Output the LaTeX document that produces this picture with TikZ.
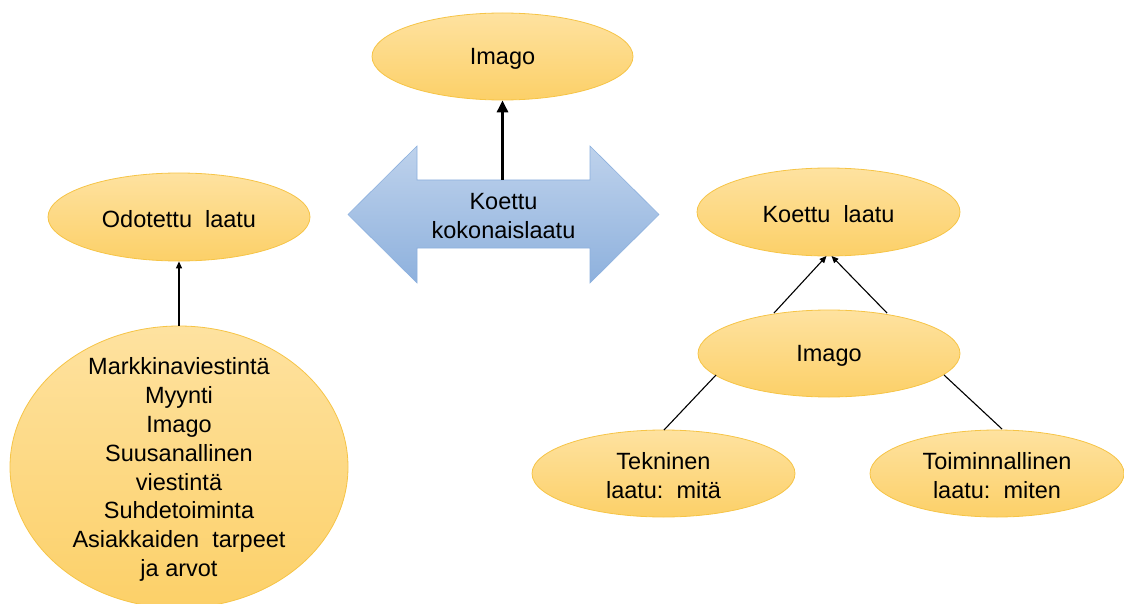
\documentclass[tikz,border=0pt]{standalone}
\usepackage{fontspec}
\setmainfont{Liberation Sans}
\usetikzlibrary{arrows.meta,shapes.geometric}
\definecolor{elltop}{RGB}{254,226,160}
\definecolor{ellbot}{RGB}{252,208,104}
\definecolor{elldraw}{RGB}{246,196,70}
\definecolor{arrtop}{RGB}{190,210,236}
\definecolor{arrbot}{RGB}{142,177,221}
\definecolor{arrdraw}{RGB}{140,176,222}
\tikzset{
  ell/.style={ellipse, draw=elldraw, line width=0.8pt, top color=elltop, bottom color=ellbot,
    inner sep=0pt},
  txt/.style={align=center, inner sep=0pt, font=\fontsize{23.5}{28.9}\selectfont},
  conn/.style={line width=1.1pt, -{Triangle[length=7pt,width=6pt]}},
  plain/.style={line width=1.1pt}
}
\begin{document}
\begin{tikzpicture}[x=1pt,y=-1pt]
\useasboundingbox (0,0) rectangle (1124,604);
% ellipses
\node[ell, minimum width=261pt, minimum height=87pt] (imagotop) at (502.5,56.5) {};
\node[txt] (imagotop-t) at ([yshift=-2.5pt]imagotop.center) {Imago};
\node[ell, minimum width=262pt, minimum height=88pt] (odot) at (179,217) {};
\node[txt] (odot-t) at ([yshift=-2.5pt]odot.center) {Odotettu\ \ laatu};
\node[ell, minimum width=338pt, minimum height=282pt] (big) at (179,467) {};
\node[txt] (big-t) at ([yshift=-2.5pt]big.center)
  {Markkinaviestintä\\Myynti\\Imago\\Suusanallinen\\viestintä\\Suhdetoiminta\\Asiakkaiden\ \ tarpeet\\ja arvot};
\node[ell, minimum width=263pt, minimum height=88pt] (koettu) at (828.5,212) {};
\node[txt] (koettu-t) at ([yshift=-2.5pt]koettu.center) {Koettu\ \ laatu};
\node[ell, minimum width=262pt, minimum height=87pt] (imagor) at (829,353.5) {};
\node[txt] (imagor-t) at ([yshift=-2.5pt]imagor.center) {Imago};
\node[ell, minimum width=263pt, minimum height=87pt] (tek) at (663.5,473.5) {};
\node[txt] (tek-t) at ([yshift=-2pt]tek.center) {Tekninen\\laatu:\ \ mitä};
\node[ell, minimum width=254pt, minimum height=87pt] (toim) at (997,473.5) {};
\node[txt] (toim-t) at ([yshift=-2pt]toim.center) {Toiminnallinen\\laatu:\ \ miten};
% double arrow
\path[draw=arrdraw, line width=0.6pt, top color=arrtop, bottom color=arrbot]
  (348,214.5) -- (417,146) -- (417,180) -- (590,180) -- (590,146) -- (659,214.5)
  -- (590,283) -- (590,248) -- (417,248) -- (417,283) -- cycle;
\coordinate (shafttop) at (502.5,180);
\node[txt] (dbl) at (503.5,216) {Koettu\\kokonaislaatu};
% connectors
\draw[line width=3pt, -{Triangle[length=12pt,width=11pt]}] (shafttop) -- (imagotop.south);
\draw[conn] (big.north) -- (odot.south);
\coordinate (il) at (774,313);
\coordinate (ir) at (887,313);
\coordinate (kl) at (826.5,256);
\coordinate (kr) at (831.5,256);
\draw[conn] (il) -- (kl);
\draw[conn] (ir) -- (kr);
\coordinate (ibl) at (716,375);
\coordinate (ibr) at (944,375);
\coordinate (tt) at (664,430);
\coordinate (tr) at (1002,429);
\draw[plain] (ibl) -- (tt);
\draw[plain] (ibr) -- (tr);
\end{tikzpicture}
\end{document}
